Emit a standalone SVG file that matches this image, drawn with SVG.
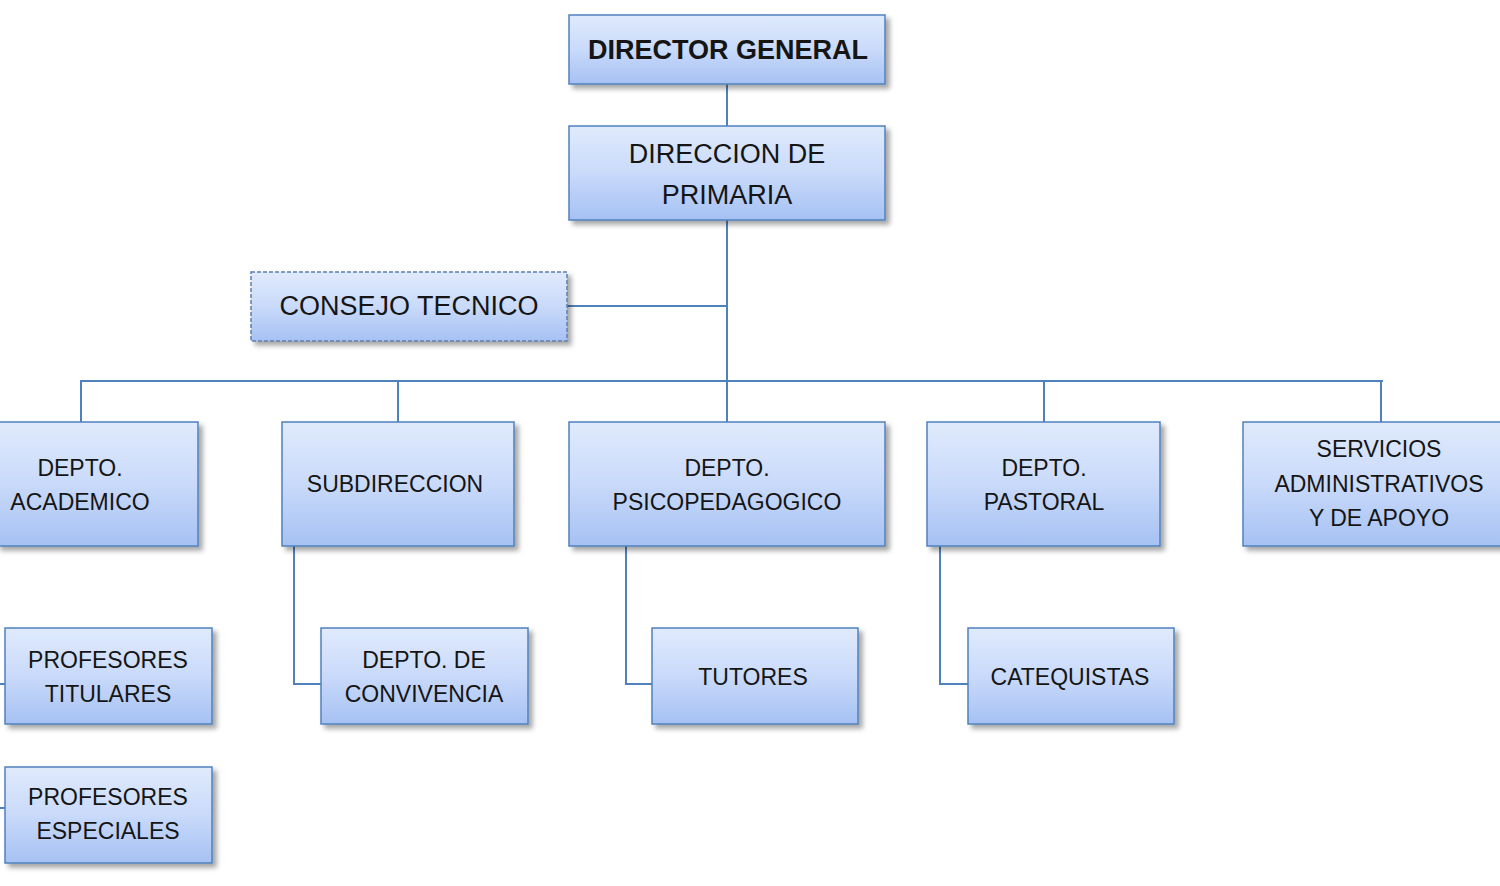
<svg xmlns="http://www.w3.org/2000/svg" width="1500" height="886" viewBox="0 0 1500 886">
<defs>
<linearGradient id="g" x1="0" y1="0" x2="0" y2="1">
<stop offset="0" stop-color="#e0eafc"/>
<stop offset="0.5" stop-color="#c9dafa"/>
<stop offset="1" stop-color="#a6c1f3"/>
</linearGradient>
<filter id="sh" x="-10%" y="-10%" width="130%" height="140%">
<feDropShadow dx="4" dy="4" stdDeviation="2.5" flood-color="#000" flood-opacity="0.35"/>
</filter>
</defs>
<style>
.box{fill:url(#g);stroke:#4f81bd;stroke-width:1.5;filter:url(#sh)}
.dash{stroke-dasharray:4 2;stroke:#5b7fb0}
.t{font-family:"Liberation Sans",Arial,sans-serif;font-size:23px;fill:#151515;text-anchor:middle}
.big{font-size:27px}
.bold{font-weight:bold}
.c{fill:none;stroke:#4f81bd;stroke-width:2}
</style>
<rect width="1500" height="886" fill="#fff"/>
<g id="connectors">
<path class="c" d="M727 84V126"/>
<path class="c" d="M727 220V422"/>
<path class="c" d="M567 306H727"/>
<path class="c" d="M80 381H1383"/>
<path class="c" d="M81 381V422"/>
<path class="c" d="M398 381V422"/>
<path class="c" d="M1044 381V422"/>
<path class="c" d="M1381 381V422"/>
<path class="c" d="M294 546V684H321"/>
<path class="c" d="M626 546V684H652"/>
<path class="c" d="M940 546V684H968"/>
<path class="c" d="M0 684H5"/>
<path class="c" d="M0 808H5"/>
</g>
<g id="director-general">
<rect class="box" x="569" y="15" width="316" height="69"/>
<text class="t big bold" x="728" y="59">DIRECTOR GENERAL</text>
</g>
<g id="direccion-primaria">
<rect class="box" x="569" y="126" width="316" height="94"/>
<text class="t big" x="727" y="163">DIRECCION DE</text>
<text class="t big" x="727" y="204">PRIMARIA</text>
</g>
<g id="consejo-tecnico">
<rect class="box dash" x="251" y="272" width="316" height="69"/>
<text class="t big" x="409" y="315">CONSEJO TECNICO</text>
</g>
<g id="depto-academico">
<rect class="box" x="-3" y="422" width="201" height="124"/>
<text class="t" x="80" y="476">DEPTO.</text>
<text class="t" x="80" y="510">ACADEMICO</text>
</g>
<g id="subdireccion">
<rect class="box" x="282" y="422" width="232" height="124"/>
<text class="t" x="395" y="492">SUBDIRECCION</text>
</g>
<g id="depto-psicopedagogico">
<rect class="box" x="569" y="422" width="316" height="124"/>
<text class="t" x="727" y="476">DEPTO.</text>
<text class="t" x="727" y="510">PSICOPEDAGOGICO</text>
</g>
<g id="depto-pastoral">
<rect class="box" x="927" y="422" width="233" height="124"/>
<text class="t" x="1044" y="476">DEPTO.</text>
<text class="t" x="1044" y="510">PASTORAL</text>
</g>
<g id="servicios">
<rect class="box" x="1243" y="422" width="262" height="124"/>
<text class="t" x="1379" y="457">SERVICIOS</text>
<text class="t" x="1379" y="492">ADMINISTRATIVOS</text>
<text class="t" x="1379" y="526">Y DE APOYO</text>
</g>
<g id="profesores-titulares">
<rect class="box" x="5" y="628" width="207" height="96"/>
<text class="t" x="108" y="668">PROFESORES</text>
<text class="t" x="108" y="702">TITULARES</text>
</g>
<g id="profesores-especiales">
<rect class="box" x="5" y="767" width="207" height="96"/>
<text class="t" x="108" y="805">PROFESORES</text>
<text class="t" x="108" y="839">ESPECIALES</text>
</g>
<g id="depto-convivencia">
<rect class="box" x="321" y="628" width="207" height="96"/>
<text class="t" x="424" y="668">DEPTO. DE</text>
<text class="t" x="424" y="702">CONVIVENCIA</text>
</g>
<g id="tutores">
<rect class="box" x="652" y="628" width="206" height="96"/>
<text class="t" x="753" y="685">TUTORES</text>
</g>
<g id="catequistas">
<rect class="box" x="968" y="628" width="206" height="96"/>
<text class="t" x="1070" y="685">CATEQUISTAS</text>
</g>
</svg>
